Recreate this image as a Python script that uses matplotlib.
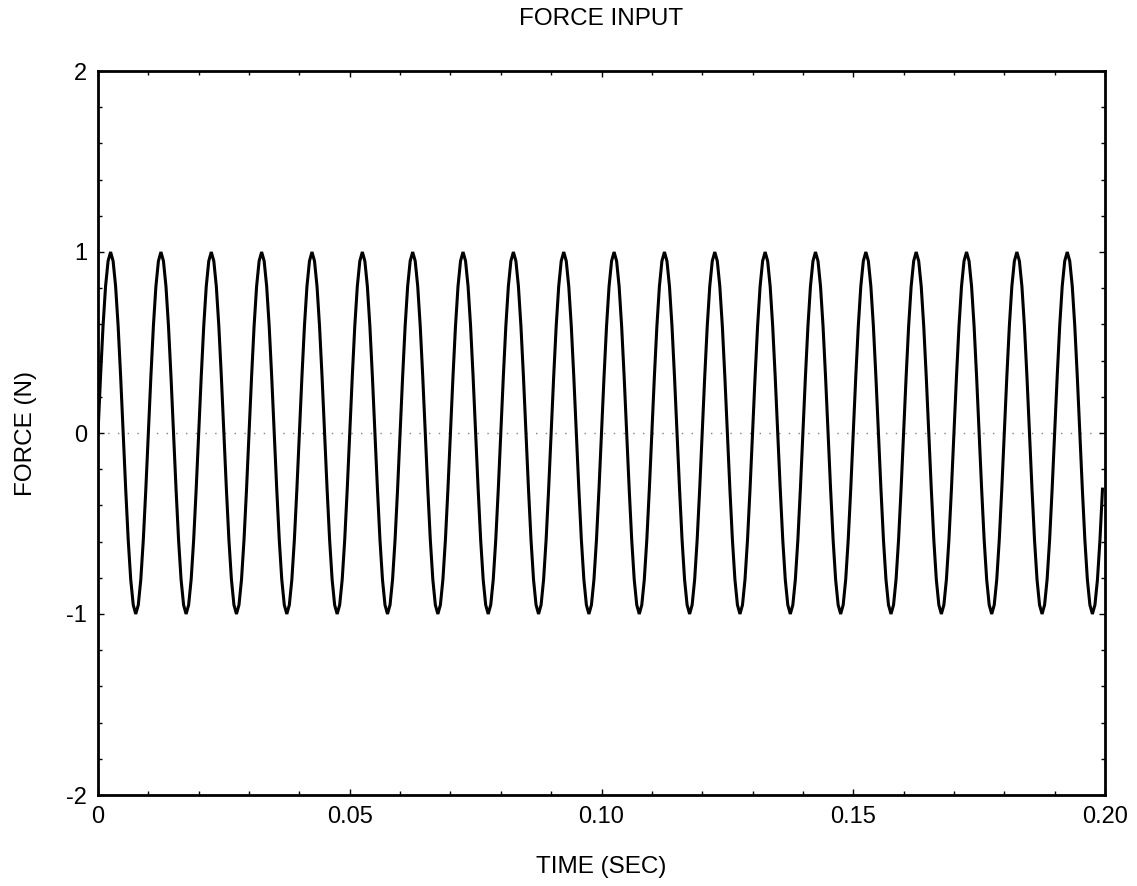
import numpy as np
import matplotlib
matplotlib.use('Agg')
import matplotlib.pyplot as plt
from matplotlib.ticker import MultipleLocator, FixedLocator

plt.rcParams['font.family'] = ['Liberation Sans', 'DejaVu Sans']
plt.rcParams['axes.unicode_minus'] = False

# one cycle of the force signal (20 samples per cycle)
cycle = [0.0, 0.31, 0.59, 0.81, 0.95, 1.0, 0.95, 0.81, 0.59, 0.31,
         0.0, -0.31, -0.59, -0.81, -0.95, -1.0, -0.95, -0.81, -0.59, -0.31]
n_cycles = 20
dt = 0.0005  # sample step (sec)

force = np.array(cycle * n_cycles)
time = np.arange(len(force)) * dt

xticks = [0, 0.05, 0.10, 0.15, 0.20]
xticklabels = ['0', '0.05', '0.10', '0.15', '0.20']
yticks = [-2, -1, 0, 1, 2]

fig = plt.figure(figsize=(11.37, 8.86), dpi=100)
ax = fig.add_axes([98/1137, 1 - 795/886, (1105 - 98)/1137, (795 - 71)/886])

ax.plot(time, force, color='black', linewidth=2.2, solid_joinstyle='miter')
ax.axhline(0, color='#808080', linestyle=(0, (1, 6)), linewidth=1.0, zorder=0)

ax.set_xlim(0, 0.2)
ax.set_ylim(-2, 2)
ax.xaxis.set_major_locator(FixedLocator(xticks))
ax.set_xticklabels(xticklabels)
ax.set_yticks(yticks)
ax.xaxis.set_minor_locator(MultipleLocator(0.01))
ax.yaxis.set_minor_locator(MultipleLocator(0.2))

ax.tick_params(which='both', direction='in', top=True, right=True, width=1.0)
ax.tick_params(which='major', length=4, labelsize=17, pad=8)
ax.tick_params(which='minor', length=3)
for s in ax.spines.values():
    s.set_linewidth(2.0)

ax.set_title('FORCE INPUT', fontsize=17.5, pad=33)
ax.set_xlabel('TIME (SEC)', fontsize=17.5, labelpad=20)
ax.set_ylabel('FORCE (N)', fontsize=17.5, labelpad=21)

fig.savefig('out.png', dpi=100)
